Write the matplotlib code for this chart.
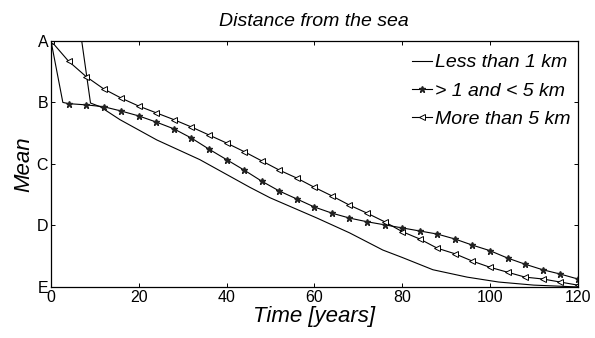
import matplotlib
matplotlib.use('Agg')
import matplotlib.pyplot as plt

plt.rcParams['font.family'] = ['Liberation Sans', 'DejaVu Sans']

# data (mean level: E=1 ... A=5)
levels = [1, 2, 3, 4, 5]
level_labels = ['E', 'D', 'C', 'B', 'A']

t_less1 = [0, 7, 9, 11.2, 15.7, 24.1, 33.9, 45.3, 49.9, 60.6, 68, 75.6, 80, 87, 94.8, 102, 110, 120]
less1 = [5.0, 5.0, 3.99, 3.93, 3.72, 3.39, 3.07, 2.62, 2.45, 2.12, 1.88, 1.60, 1.48, 1.28, 1.16,
         1.08, 1.03, 1.0]

t_mid = [0, 2.7, 4, 8, 12, 16, 20, 24, 28, 32, 36, 40, 44, 48, 52, 56, 60, 64, 68, 72,
         76, 80, 84, 88, 92, 96, 100, 104, 108, 112, 116, 120]
mid = [5.0, 4.0, 3.98, 3.96, 3.93, 3.86, 3.78, 3.68, 3.57, 3.42, 3.24, 3.07, 2.90, 2.72, 2.56,
       2.43, 2.30, 2.20, 2.12, 2.06, 2.01, 1.96, 1.91, 1.86, 1.78, 1.68, 1.59, 1.47, 1.37,
       1.28, 1.21, 1.13]

t_more5 = list(range(0, 121, 4))
more5 = [5.0, 4.67, 4.42, 4.22, 4.07, 3.94, 3.83, 3.72, 3.60, 3.47, 3.34, 3.20, 3.05, 2.90,
         2.77, 2.62, 2.48, 2.33, 2.20, 2.06, 1.90, 1.78, 1.63, 1.54, 1.42, 1.32, 1.24, 1.16,
         1.13, 1.08, 1.03]

fig = plt.figure(figsize=(5.95, 3.38), dpi=100)
ax = fig.add_axes([0.0857, 0.151, 0.8853, 0.728])

ax.plot(t_less1, less1, color='black', lw=0.8, label='Less than 1 km')
ax.plot(t_mid, mid, color='black', lw=0.8, marker='*', ms=4.5, mfc='#222222', mec='#222222',
        markevery=[0] + list(range(2, len(t_mid))), label='> 1 and < 5 km')
ax.plot(t_more5, more5, color='black', lw=0.8, marker='<', ms=4.5,
        mfc='white', mec='black', mew=0.7, label='More than 5 km')

ax.set_xlim(0, 120)
ax.set_ylim(1, 5)
ax.set_xticks([0, 20, 40, 60, 80, 100, 120])
ax.set_yticks(levels)
ax.set_yticklabels(level_labels)
ax.tick_params(direction='in', top=True, right=True, length=3, width=0.7,
               labelsize=11.5, pad=2)
for s in ax.spines.values():
    s.set_linewidth(0.9)

ax.set_title('Distance from the sea', fontsize=14, style='italic', pad=11)
ax.set_xlabel('Time [years]', fontsize=16, style='italic', labelpad=1)
ax.set_ylabel('Mean', fontsize=16, style='italic', labelpad=2)

ax.legend(loc='upper right', bbox_to_anchor=(1.0, 0.975), frameon=False,
          prop={'style': 'italic', 'size': 14},
          handlelength=1.0, handletextpad=0.2, labelspacing=0.55,
          borderaxespad=0.05, borderpad=0.3)

plt.savefig('out.png', dpi=100)
